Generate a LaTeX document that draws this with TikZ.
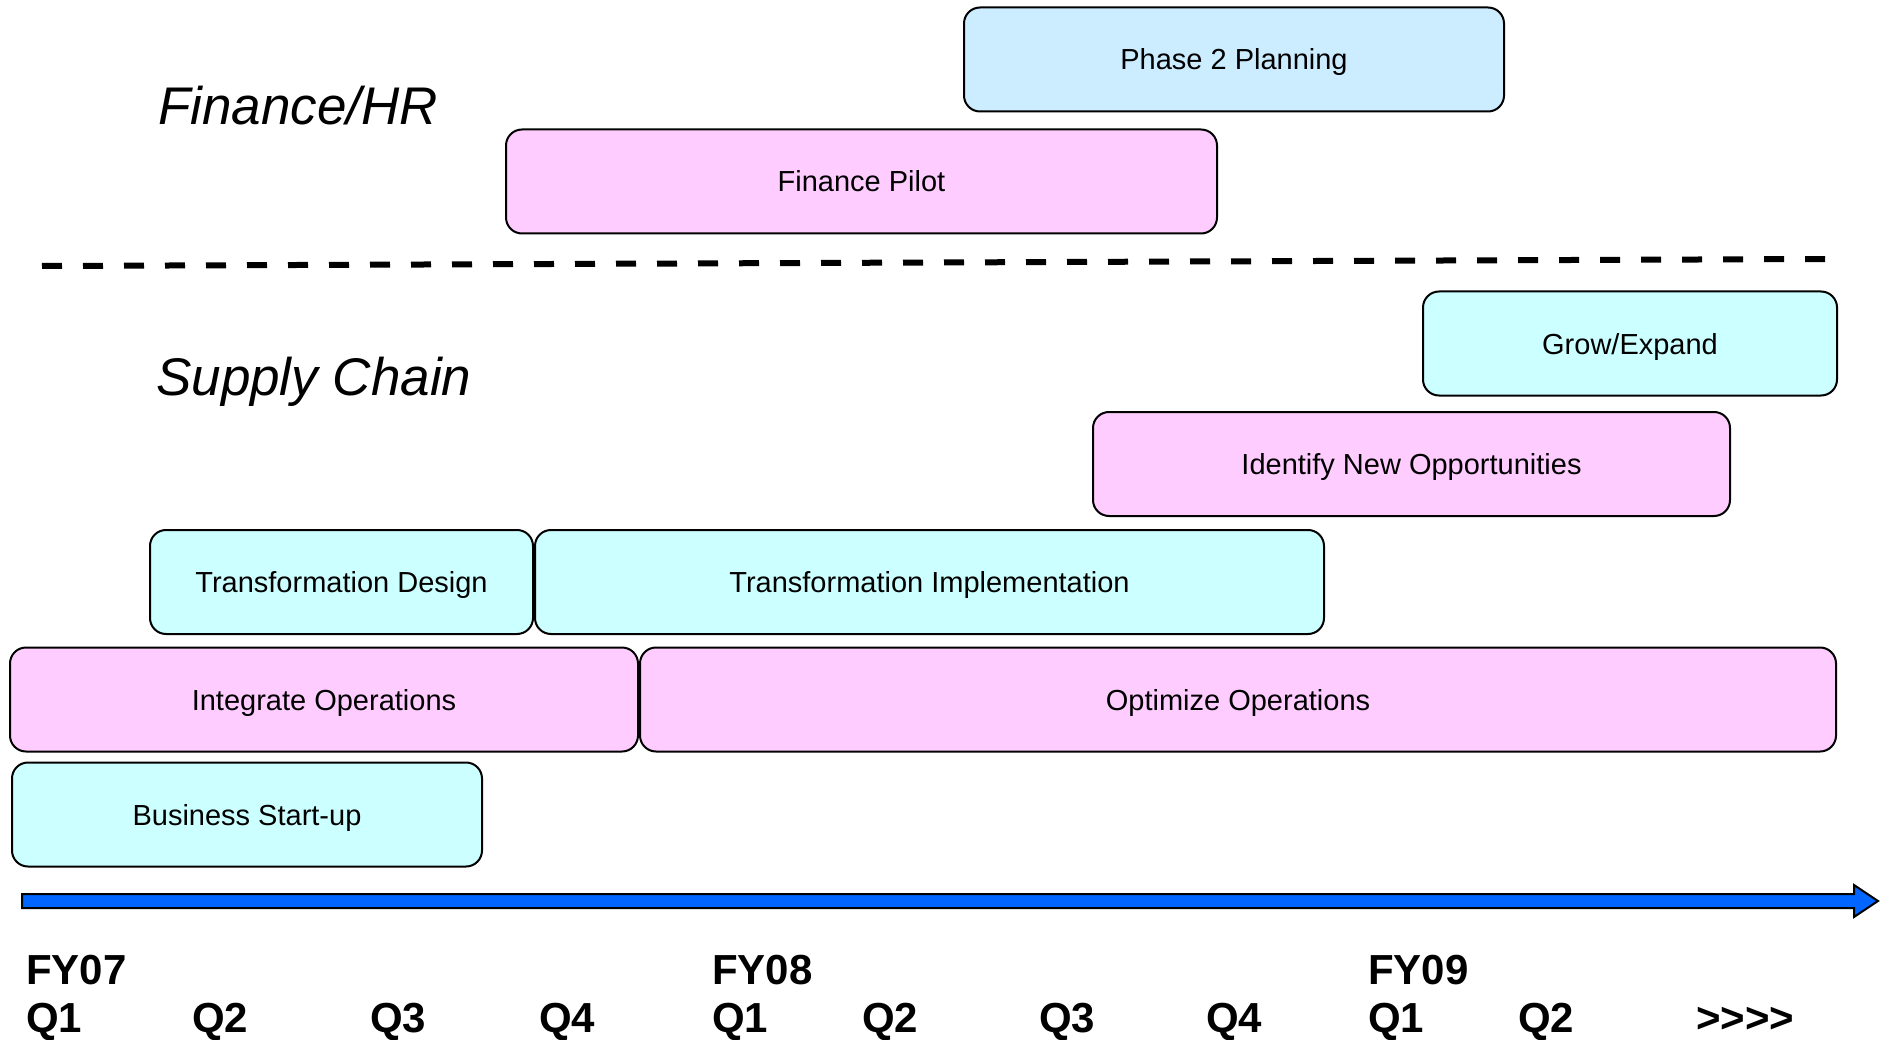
\documentclass[tikz,border=0pt]{standalone}
\usepackage{fontspec}
\setmainfont{Liberation Sans}
\usepackage{xcolor}
\definecolor{taskpink}{HTML}{FFCCFF}
\definecolor{taskcyan}{HTML}{CCFFFF}
\definecolor{taskblue}{HTML}{CCECFF}
\definecolor{axisblue}{HTML}{0066FF}
\tikzset{
  task/.style={draw=black, line width=2pt, rounded corners=16pt, inner sep=0pt,
    minimum height=104pt, text height=21pt, text depth=0pt,
    font=\fontsize{29}{34}\selectfont},
  pinktask/.style={task, fill=taskpink},
  cyantask/.style={task, fill=taskcyan},
  bluetask/.style={task, fill=taskblue},
  area/.style={anchor=base west, inner sep=0pt, font=\fontsize{53}{60}\selectfont\itshape},
  period/.style={anchor=base west, inner sep=0pt, font=\fontsize{42}{48}\selectfont\bfseries}
}

\begin{document}
\begin{tikzpicture}[x=1pt,y=-1pt]
\useasboundingbox (0,0) rectangle (1881,1040);
% finance / hr
\node[area] (fin) at (158,125) {Finance/HR};
\node[bluetask, minimum width=540pt] (phase) at (1234,59.5) {Phase 2 Planning};
\node[pinktask, minimum width=711pt] (pilot) at (861.5,181.5) {Finance Pilot};
\draw[line width=6pt, dash pattern=on 20pt off 21pt] (42,266) -- (1826,259);
% supply chain
\node[area] (sc) at (156,395) {Supply Chain};
\node[cyantask, minimum width=414pt] (grow) at (1630,343.5) {Grow/Expand};
\node[pinktask, minimum width=637pt] (ident) at (1411.5,464) {Identify New Opportunities};
\node[cyantask, minimum width=383pt] (tdes) at (341.5,582) {Transformation Design};
\node[cyantask, minimum width=789pt] (timp) at (929.5,582) {Transformation Implementation};
\node[pinktask, minimum width=628pt] (integ) at (324,699.5) {Integrate Operations};
\node[pinktask, minimum width=1196pt] (optim) at (1238,699.5) {Optimize Operations};
\node[cyantask, minimum width=470pt] (start) at (247,814.5) {Business Start-up};
% time axis
\filldraw[fill=axisblue, draw=black, line width=2pt] (22,894) -- (1854,894) -- (1854,885)
  -- (1878,901) -- (1854,917) -- (1854,908) -- (22,908) -- cycle;
\node[period] (fy07) at (26,984) {FY07};
\node[period] (fy08) at (712,984) {FY08};
\node[period] (fy09) at (1368,984) {FY09};
\foreach \qx/\qt [count=\qi] in {26/Q1,192/Q2,370/Q3,539/Q4,712/Q1,862/Q2,1039/Q3,1206/Q4,1368/Q1,1518/Q2,1696/{{>}{>}{>}{>}}}
  \node[period] (q\qi) at (\qx,1032) {\qt};
\end{tikzpicture}
\end{document}
